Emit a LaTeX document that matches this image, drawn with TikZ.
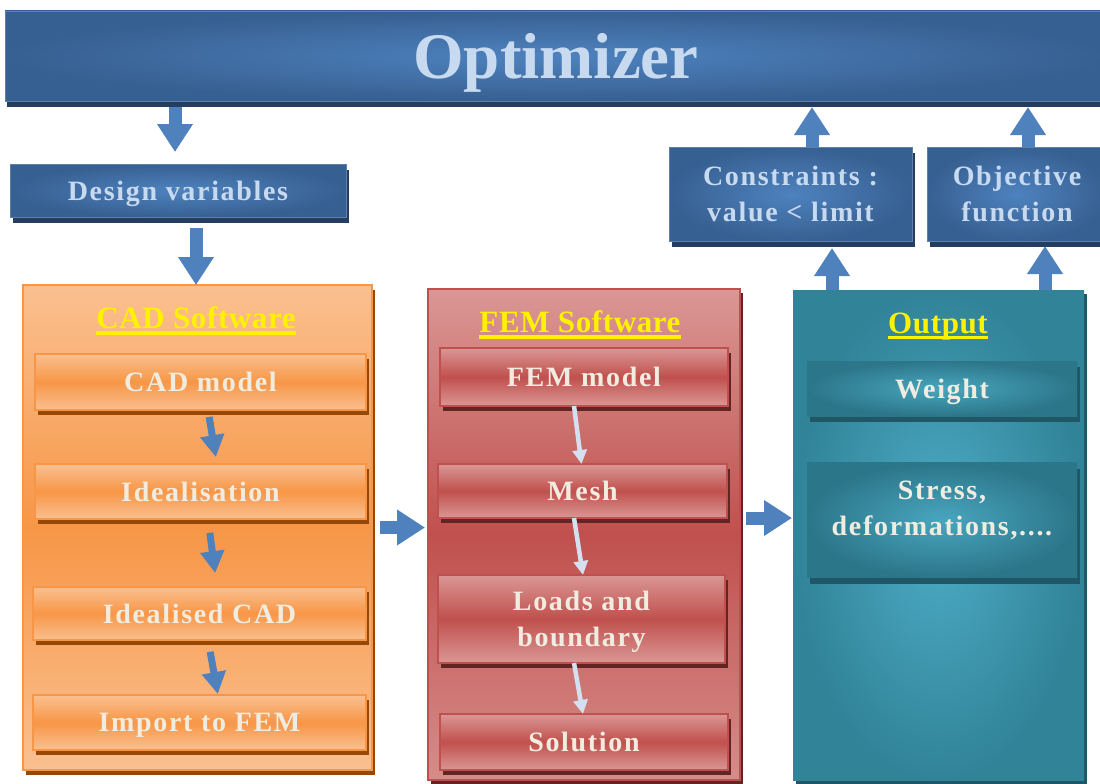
\documentclass[tikz,border=0pt]{standalone}
\usepackage{fontspec}
\setmainfont{Liberation Serif}
\usepackage{tikz}
\usetikzlibrary{arrows.meta,shadows}
\definecolor{optdark}{RGB}{55,96,146}
\definecolor{optlight}{RGB}{78,130,190}
\definecolor{optfont}{RGB}{200,218,240}
\definecolor{navyshadow}{RGB}{36,61,96}
\definecolor{arrowblue}{RGB}{79,129,189}
\definecolor{cadmid}{RGB}{247,150,70}
\definecolor{cadlight}{RGB}{250,192,144}
\definecolor{cadshadow}{RGB}{152,72,6}
\definecolor{femmid}{RGB}{192,80,77}
\definecolor{femlight}{RGB}{218,151,149}
\definecolor{femshadow}{RGB}{99,37,35}
\definecolor{outdark}{RGB}{49,131,152}
\definecolor{outlight}{RGB}{76,172,198}
\definecolor{outshadow}{RGB}{32,87,102}
\definecolor{cream}{RGB}{240,236,224}
\definecolor{femarrow}{RGB}{212,224,240}
\newcommand{\panelhead}[1]{\setbox0\hbox{#1}\copy0\llap{\rule[-6pt]{\wd0}{3.5pt}}}
\newcommand{\bodysize}{\fontsize{28}{36}\selectfont\bfseries\addfontfeatures{LetterSpace=6}}

\tikzset{
  box/.style={rectangle, inner sep=0pt, outer sep=0pt, align=center, text depth=0pt},
  bluebox/.style={box, inner color=optlight, outer color=optdark, draw=optdark!80!white,
    text=optfont, font=\bodysize,
    general shadow={fill=navyshadow, shadow xshift=3pt, shadow yshift=-6pt}},
  cadpanel/.style={box, top color=cadlight, bottom color=cadlight, middle color=cadmid,
    draw=cadmid, line width=2pt,
    general shadow={fill=cadshadow, shadow xshift=3pt, shadow yshift=-5pt}},
  cadbox/.style={box, top color=cadlight, bottom color=cadlight, middle color=cadmid,
    draw=cadmid, line width=1.2pt, text=cream, font=\bodysize,
    general shadow={fill=cadshadow, shadow xshift=3pt, shadow yshift=-5pt}},
  fempanel/.style={box, top color=femlight, bottom color=femlight!85!femmid, middle color=femmid,
    draw=femmid, line width=2pt,
    general shadow={fill=femshadow, shadow xshift=3pt, shadow yshift=-4pt}},
  fembox/.style={box, top color=femlight, bottom color=femlight, middle color=femmid,
    draw=femmid, line width=1.2pt, text=cream, font=\bodysize,
    general shadow={fill=femshadow, shadow xshift=3pt, shadow yshift=-5pt}},
  outpanel/.style={box, inner color=outlight, outer color=outdark,
    general shadow={fill=outshadow, shadow xshift=3pt, shadow yshift=-4pt}},
  outbox/.style={box, inner color=outlight!85!outdark, outer color=outdark!90!black,
    text=cream, font=\bodysize,
    general shadow={fill=outshadow, shadow xshift=3pt, shadow yshift=-6pt}},
  paneltitle/.style={box, text=yellow, font=\fontsize{31}{36}\selectfont\bfseries\addfontfeatures{LetterSpace=2}},
  bigarrow/.style={draw=arrowblue, line width=13pt, -{Triangle[width=34pt,length=28pt]}},
  smallarrow/.style={draw=arrowblue, line width=7pt, -{Triangle[width=23pt,length=22pt]}},
  lightarrow/.style={draw=femarrow, line width=4.5pt, -{Triangle[width=14pt,length=14pt]}}
}

\begin{document}
\begin{tikzpicture}[x=1pt,y=-1pt]
\useasboundingbox (0,0) rectangle (1100,784);

\node[bluebox, minimum width=1102, minimum height=90, font=\fontsize{65}{70}\selectfont\bfseries,
  general shadow={fill=navyshadow, shadow xshift=2pt, shadow yshift=-6pt}] (opt) at (556,56) {Optimizer};
\node[bluebox, minimum width=336, minimum height=53] (dv) at (178,190.5) {Design variables};
\node[bluebox, minimum width=243, minimum height=94] (con) at (790.5,194) {Constraints :\\value < limit};
\node[bluebox, minimum width=180, minimum height=94] (obj) at (1017,194) {Objective\\function};

\node[cadpanel, minimum width=349, minimum height=485] (cadp) at (197.5,527.5) {};
\node[paneltitle] (cadt) at (196,318) {\panelhead{CAD Software}};
\node[cadbox, minimum width=331, minimum height=56] (cad1) at (200.5,382) {CAD model};
\node[cadbox, minimum width=331, minimum height=55] (cad2) at (200.5,491.5) {Idealisation};
\node[cadbox, minimum width=333, minimum height=53] (cad3) at (199.5,613.5) {Idealised CAD};
\node[cadbox, minimum width=333, minimum height=55] (cad4) at (199.5,722.5) {Import to FEM};

\node[fempanel, minimum width=312, minimum height=491] (femp) at (584,534.5) {};
\node[paneltitle] (femt) at (580,322) {\panelhead{FEM Software}};
\node[fembox, minimum width=288, minimum height=58] (fem1) at (584,377) {FEM model};
\node[fembox, minimum width=289, minimum height=54] (fem2) at (582.5,491) {Mesh};
\node[fembox, minimum width=287, minimum height=88] (fem3) at (581.5,619) {Loads and\\boundary};
\node[fembox, minimum width=288, minimum height=56] (fem4) at (584,742) {Solution};

\node[outpanel, minimum width=291, minimum height=490] (outp) at (938.5,535) {};
\node[paneltitle] (outt) at (938,323) {\panelhead{Output}};
\node[outbox, minimum width=270, minimum height=55] (out1) at (942,388.5) {Weight};
\node[outbox, minimum width=270, minimum height=115, text depth=24pt] (out2) at (942,520) {Stress,\\deformations,....};

\draw[bigarrow, shorten <=6pt, shorten >=12pt] ([xshift=-3pt]dv.north |- opt.south) -- ([xshift=-3pt]dv.north);
\draw[bigarrow, shorten <=11pt] ([xshift=18pt]dv.south) -- ([xshift=18pt]dv.south |- cadp.north);
\draw[bigarrow, shorten >=6pt] ([xshift=21.5pt]con.north) -- ([xshift=21.5pt]con.north |- opt.south);
\draw[bigarrow, shorten >=6pt] ([xshift=11pt]obj.north) -- ([xshift=11pt]obj.north |- opt.south);
\draw[bigarrow, shorten >=7pt] ([xshift=41.5pt]con.south |- outp.north) -- ([xshift=41.5pt]con.south);
\draw[bigarrow, shorten >=5pt] ([xshift=28pt]obj.south |- outp.north) -- ([xshift=28pt]obj.south);
\draw[bigarrow, shorten <=8pt, shorten >=3pt] (cadp.east) -- (cadp.east -| femp.west);
\draw[bigarrow, shorten <=6pt, shorten >=1pt] ([yshift=16.5pt]femp.east) -- ([yshift=16.5pt]femp.east -| outp.west);

\draw[smallarrow, shorten <=7pt, shorten >=7pt] ([xshift=7.5pt]cad1.south) -- ([xshift=16.5pt]cad2.north);
\draw[smallarrow, shorten <=14pt, shorten >=14pt] ([xshift=7.5pt]cad2.south) -- ([xshift=17.5pt]cad3.north);
\draw[smallarrow, shorten <=12pt, shorten >=1pt] ([xshift=8.5pt]cad3.south) -- ([xshift=18.5pt]cad4.north);

\draw[lightarrow] ([xshift=-10pt]fem1.south) -- ([xshift=-1pt]fem2.north);
\draw[lightarrow] ([xshift=-8.5pt]fem2.south) -- ([xshift=1.5pt]fem3.north);
\draw[lightarrow] ([xshift=-7.5pt]fem3.south) -- ([xshift=-1pt]fem4.north);
\end{tikzpicture}
\end{document}
